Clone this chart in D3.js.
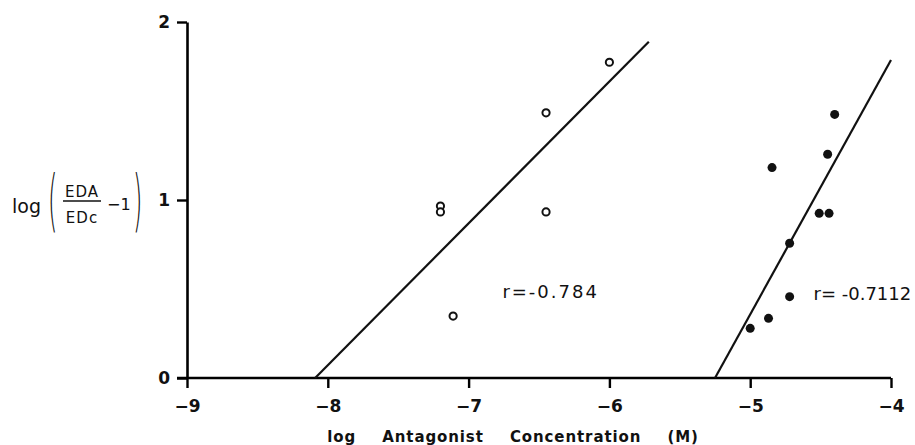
<!DOCTYPE html>
<html>
<head>
<meta charset="utf-8">
<script src="https://cdn.jsdelivr.net/npm/d3@7"></script>
<style>
  body { margin: 0; background: #fff; }
  text { font-family: "DejaVu Sans", sans-serif; fill: #111; }
</style>
</head>
<body>
<div class="pa2_chart"></div>
<script>
// open circles: first antagonist
var openX = [-6.0, -6.45, -7.2, -7.2, -6.45, -7.11];
var openY = [1.774, 1.49, 0.966, 0.933, 0.933, 0.348];
// filled circles: second antagonist
var fillX = [-4.40, -4.45, -4.845, -4.51, -4.44, -4.72, -4.72, -4.87, -5.0];
var fillY = [1.481, 1.257, 1.182, 0.925, 0.925, 0.757, 0.457, 0.335, 0.279];
// regression lines, end points [x, y]
var lineOpen = [[-8.09, 0], [-5.72, 1.889]];
var lineFill = [[-5.25, 0], [-4.0, 1.787]];
var xTicks = [-9, -8, -7, -6, -5, -4];
var yTicks = [0, 1, 2];
var rLabels = [
  { x: -6.76, y: 0.45, text: "r=-0.784" },
  { x: -4.55, y: 0.44, text: "r= -0.7112" }
];

var width = 915, height = 445;
var svg = d3
  .select(".pa2_chart")
  .append("svg")
  .attr("width", width)
  .attr("height", height);

var x = d3.scaleLinear().domain([-9, -4]).range([187, 891]);
var y = d3.scaleLinear().domain([0, 2]).range([378, 22]);

// x-axis
var xAxis = svg
  .append("g")
  .attr("class", "x axis")
  .attr("transform", "translate(0," + y(0) + ")")
  .call(
    d3.axisBottom(x).tickValues(xTicks).tickSize(10).tickSizeOuter(0).tickPadding(12)
      .tickFormat(d3.format("d"))
  );
xAxis.select(".domain").attr("stroke-width", 2.6).attr("d", "M177,0H" + x(-4));
xAxis.selectAll(".tick line").attr("stroke-width", 2.4);
xAxis
  .selectAll(".tick text")
  .attr("font-size", "17px")
  .attr("font-weight", "bold")
  .attr("fill", "#111");

// y-axis
var yAxis = svg
  .append("g")
  .attr("class", "y axis")
  .attr("transform", "translate(" + x(-9) + ",0)")
  .call(
    d3.axisLeft(y).tickValues(yTicks).tickSize(10).tickSizeOuter(0).tickPadding(7)
      .tickFormat(d3.format("d"))
  );
yAxis.select(".domain").attr("stroke-width", 2.6);
yAxis.selectAll(".tick line").attr("stroke-width", 2.4);
yAxis
  .selectAll(".tick text")
  .attr("font-size", "17px")
  .attr("font-weight", "bold")
  .attr("fill", "#111");

// regression lines
var line = d3.line()
  .x(function (d) { return x(d[0]); })
  .y(function (d) { return y(d[1]); });
svg.selectAll(".fit")
  .data([lineOpen, lineFill])
  .enter()
  .append("path")
  .attr("class", "fit")
  .attr("d", line)
  .attr("fill", "none")
  .attr("stroke", "#111")
  .attr("stroke-width", 2.2);

// points
svg.selectAll(".open")
  .data(d3.zip(openX, openY))
  .enter()
  .append("circle")
  .attr("class", "open")
  .attr("cx", function (d) { return x(d[0]); })
  .attr("cy", function (d) { return y(d[1]); })
  .attr("r", 3.6)
  .attr("fill", "#fff")
  .attr("stroke", "#111")
  .attr("stroke-width", 2);

svg.selectAll(".filled")
  .data(d3.zip(fillX, fillY))
  .enter()
  .append("circle")
  .attr("class", "filled")
  .attr("cx", function (d) { return x(d[0]); })
  .attr("cy", function (d) { return y(d[1]); })
  .attr("r", 4.5)
  .attr("fill", "#111");

// correlation labels
svg.selectAll(".rlab")
  .data(rLabels)
  .enter()
  .append("text")
  .attr("class", "rlab")
  .attr("x", function (d) { return x(d.x); })
  .attr("y", function (d) { return y(d.y); })
  .attr("font-size", "18px")
  .attr("letter-spacing", function (d, i) { return i == 0 ? "2px" : "0px"; })
  .text(function (d) { return d.text; });

// x title
svg.append("text")
  .attr("x", 513)
  .attr("y", 442)
  .attr("text-anchor", "middle")
  .attr("font-size", "15px")
  .attr("font-weight", "bold")
  .attr("word-spacing", "20px")
  .attr("letter-spacing", "0.9px")
  .text("log Antagonist Concentration (M)");

// y title: log (EDa / EDc - 1)
var yl = svg.append("g").attr("class", "ylab");
yl.append("text").attr("x", 12).attr("y", 213).attr("font-size", "19px").text("log");
yl.append("text").attr("x", 82).attr("y", 197).attr("font-size", "15px")
  .attr("text-anchor", "middle").attr("letter-spacing", "1px").text("EDA");
yl.append("text").attr("x", 82).attr("y", 223).attr("font-size", "15px")
  .attr("text-anchor", "middle").attr("letter-spacing", "1px").text("EDc");
yl.append("line").attr("x1", 63).attr("x2", 101).attr("y1", 201).attr("y2", 201)
  .attr("stroke", "#111").attr("stroke-width", 1.6);
yl.append("text").attr("x", 107).attr("y", 210).attr("font-size", "16px").text("−1");
yl.append("text").attr("transform", "translate(48,224) scale(1,2.8)")
  .attr("font-size", "24px").attr("font-weight", "300").text("(");
yl.append("text").attr("transform", "translate(133,224) scale(1,2.8)")
  .attr("font-size", "24px").attr("font-weight", "300").text(")");
</script>
</body>
</html>
